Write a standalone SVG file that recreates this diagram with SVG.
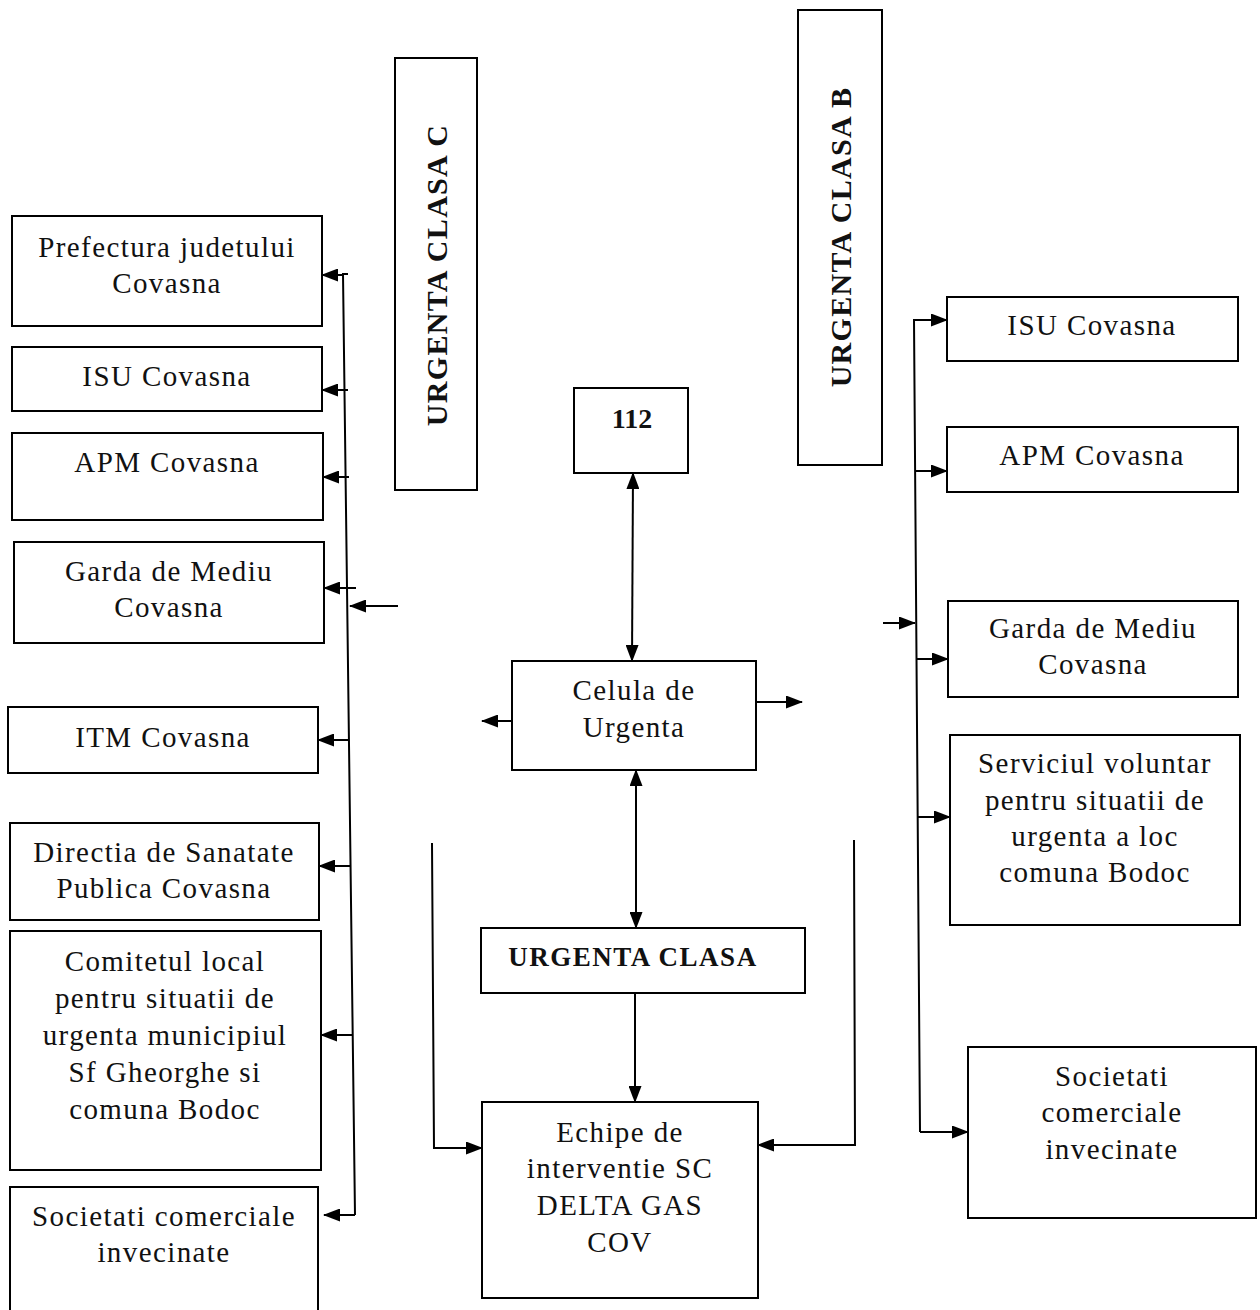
<svg xmlns="http://www.w3.org/2000/svg" width="1260" height="1310" viewBox="0 0 1260 1310">
<style>
.box{fill:#fff;stroke:#000;stroke-width:2}
.t{font-family:"Liberation Serif","Times New Roman",serif;font-size:29px;letter-spacing:1.4px;fill:#111;text-anchor:middle}
.b{font-family:"Liberation Serif","Times New Roman",serif;font-weight:bold;fill:#111;text-anchor:middle}
.c{fill:none;stroke:#000;stroke-width:2}
.a{marker-end:url(#ah)}
.d{marker-end:url(#ah);marker-start:url(#ah2)}
</style>
<defs>
<marker id="ah" markerUnits="userSpaceOnUse" markerWidth="17" markerHeight="13" refX="16" refY="6.5" orient="auto"><path d="M0,0 L17,6.5 L0,13 z" fill="#000"/></marker>
<marker id="ah2" markerUnits="userSpaceOnUse" markerWidth="17" markerHeight="13" refX="16" refY="6.5" orient="auto-start-reverse"><path d="M0,0 L17,6.5 L0,13 z" fill="#000"/></marker>
</defs>
<rect width="1260" height="1310" fill="#fff"/>

<g id="connectors">
<path class="c" d="M348 274 L343 274 L355 1215"/>
<path class="c a" d="M344 275 L322 275"/>
<path class="c a" d="M348 390 L322 390"/>
<path class="c a" d="M349 477 L323 477"/>
<path class="c a" d="M356 588 L324 588"/>
<path class="c a" d="M398 606 L350 606"/>
<path class="c a" d="M348 740 L318 740"/>
<path class="c a" d="M351 866 L319 866"/>
<path class="c a" d="M352 1035 L321 1035"/>
<path class="c a" d="M355 1215 L324 1215"/>
<path class="c d" d="M632 661 L633 473"/>
<path class="c a" d="M512 721 L482 721"/>
<path class="c a" d="M756 702 L802 702"/>
<path class="c d" d="M636 928 L636 770"/>
<path class="c a" d="M635 993 L635 1102"/>
<path class="c a" d="M432 843 L434 1148 L482 1148"/>
<path class="c a" d="M854 840 L855 1145 L758 1145"/>
<path class="c" d="M934 320 L914 320 L920 1132"/>
<path class="c a" d="M914 320 L947 320"/>
<path class="c a" d="M915 471 L947 471"/>
<path class="c a" d="M883 623 L915 623"/>
<path class="c a" d="M916 659 L948 659"/>
<path class="c a" d="M917 817 L950 817"/>
<path class="c a" d="M920 1132 L968 1132"/>
</g>

<g id="n-prefectura"><rect class="box" x="12" y="216" width="310" height="110"/><text class="t" x="167" y="257">Prefectura judetului</text><text class="t" x="167" y="293">Covasna</text></g>
<g id="n-isu-l"><rect class="box" x="12" y="347" width="310" height="64"/><text class="t" x="167" y="386">ISU Covasna</text></g>
<g id="n-apm-l"><rect class="box" x="12" y="433" width="311" height="87"/><text class="t" x="167" y="472">APM Covasna</text></g>
<g id="n-garda-l"><rect class="box" x="14" y="542" width="310" height="101"/><text class="t" x="169" y="581">Garda de Mediu</text><text class="t" x="169" y="617">Covasna</text></g>
<g id="n-itm"><rect class="box" x="8" y="707" width="310" height="66"/><text class="t" x="163" y="747">ITM Covasna</text></g>
<g id="n-directia"><rect class="box" x="10" y="823" width="309" height="97"/><text class="t" x="164" y="862">Directia de Sanatate</text><text class="t" x="164" y="898">Publica Covasna</text></g>
<g id="n-comitetul"><rect class="box" x="10" y="931" width="311" height="239"/><text class="t" x="165" y="971">Comitetul local</text><text class="t" x="165" y="1008">pentru situatii de</text><text class="t" x="165" y="1045">urgenta municipiul</text><text class="t" x="165" y="1082">Sf Gheorghe si</text><text class="t" x="165" y="1119">comuna Bodoc</text></g>
<g id="n-societati-l"><rect class="box" x="10" y="1187" width="308" height="130"/><text class="t" x="164" y="1226">Societati comerciale</text><text class="t" x="164" y="1262">invecinate</text></g>

<g id="n-clasa-c"><rect class="box" x="395" y="58" width="82" height="432"/><text class="b" font-size="30" letter-spacing="1.3" transform="translate(447 275) rotate(-90)">URGENTA CLASA C</text></g>
<g id="n-clasa-b"><rect class="box" x="798" y="10" width="84" height="455"/><text class="b" font-size="30" letter-spacing="1.3" transform="translate(851 237) rotate(-90)">URGENTA CLASA B</text></g>

<g id="n-112"><rect class="box" x="574" y="388" width="114" height="85"/><text class="b" font-size="28" x="632" y="428">112</text></g>
<g id="n-celula"><rect class="box" x="512" y="661" width="244" height="109"/><text class="t" x="634" y="700">Celula de</text><text class="t" x="634" y="737">Urgenta</text></g>
<g id="n-clasa"><rect class="box" x="481" y="928" width="324" height="65"/><text class="b" font-size="27" letter-spacing="1.5" x="633" y="966">URGENTA CLASA</text></g>
<g id="n-echipe"><rect class="box" x="482" y="1102" width="276" height="196"/><text class="t" x="620" y="1142">Echipe de</text><text class="t" x="620" y="1178">interventie SC</text><text class="t" x="620" y="1215">DELTA GAS</text><text class="t" x="620" y="1252">COV</text></g>

<g id="n-isu-r"><rect class="box" x="947" y="297" width="291" height="64"/><text class="t" x="1092" y="335">ISU Covasna</text></g>
<g id="n-apm-r"><rect class="box" x="947" y="427" width="291" height="65"/><text class="t" x="1092" y="465">APM Covasna</text></g>
<g id="n-garda-r"><rect class="box" x="948" y="601" width="290" height="96"/><text class="t" x="1093" y="638">Garda de Mediu</text><text class="t" x="1093" y="674">Covasna</text></g>
<g id="n-serviciul"><rect class="box" x="950" y="735" width="290" height="190"/><text class="t" x="1095" y="773">Serviciul voluntar</text><text class="t" x="1095" y="810">pentru situatii de</text><text class="t" x="1095" y="846">urgenta a loc</text><text class="t" x="1095" y="882">comuna Bodoc</text></g>
<g id="n-societati-r"><rect class="box" x="968" y="1047" width="288" height="171"/><text class="t" x="1112" y="1086">Societati</text><text class="t" x="1112" y="1122">comerciale</text><text class="t" x="1112" y="1159">invecinate</text></g>
</svg>
